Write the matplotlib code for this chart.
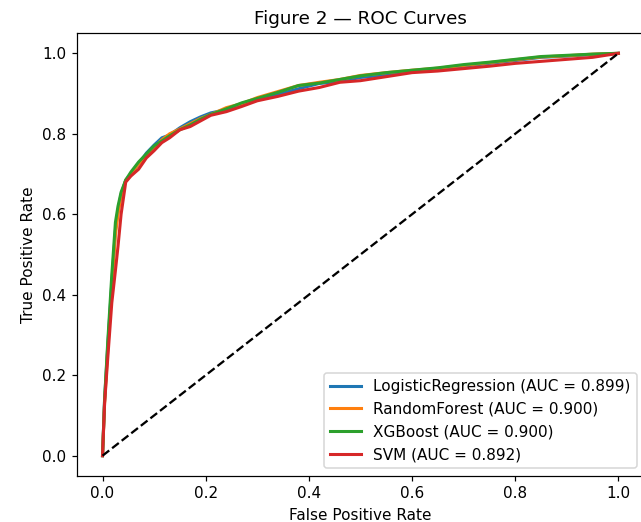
import matplotlib
matplotlib.use("Agg")
import matplotlib.pyplot as plt

models = ["LogisticRegression", "RandomForest", "XGBoost", "SVM"]
aucs = [0.899, 0.900, 0.900, 0.892]
colors = ["#1f77b4", "#ff7f0e", "#2ca02c", "#d62728"]

fpr_lr = [0.0, 0.004, 0.01, 0.018, 0.025, 0.03, 0.036, 0.045, 0.055, 0.07, 0.085, 0.1, 0.115, 0.13, 0.15, 0.17, 0.19, 0.21, 0.24, 0.27, 0.3, 0.34, 0.38, 0.42, 0.46, 0.5, 0.55, 0.6, 0.65, 0.7, 0.75, 0.8, 0.85, 0.9, 0.95, 1.0]
tpr_lr = [0.0, 0.14, 0.27, 0.43, 0.56, 0.61, 0.65, 0.685, 0.70, 0.725, 0.752, 0.772, 0.79, 0.797, 0.815, 0.83, 0.842, 0.852, 0.86, 0.872, 0.885, 0.898, 0.912, 0.925, 0.93, 0.94, 0.946, 0.955, 0.96, 0.968, 0.975, 0.982, 0.99, 0.993, 0.997, 1.0]
fpr_rf = [0.0, 0.004, 0.01, 0.018, 0.025, 0.03, 0.036, 0.045, 0.055, 0.07, 0.085, 0.1, 0.115, 0.13, 0.15, 0.17, 0.19, 0.21, 0.24, 0.27, 0.3, 0.34, 0.38, 0.42, 0.46, 0.5, 0.55, 0.6, 0.65, 0.7, 0.75, 0.8, 0.85, 0.9, 0.95, 1.0]
tpr_rf = [0.0, 0.13, 0.26, 0.42, 0.55, 0.60, 0.645, 0.685, 0.70, 0.725, 0.745, 0.765, 0.785, 0.80, 0.812, 0.825, 0.838, 0.848, 0.865, 0.875, 0.89, 0.905, 0.92, 0.928, 0.935, 0.945, 0.952, 0.958, 0.963, 0.97, 0.977, 0.984, 0.991, 0.994, 0.998, 1.0]
fpr_xgb = [0.0, 0.004, 0.01, 0.018, 0.025, 0.03, 0.036, 0.045, 0.055, 0.07, 0.085, 0.1, 0.115, 0.13, 0.15, 0.17, 0.19, 0.21, 0.24, 0.27, 0.3, 0.34, 0.38, 0.42, 0.46, 0.5, 0.55, 0.6, 0.65, 0.7, 0.75, 0.8, 0.85, 0.9, 0.95, 1.0]
tpr_xgb = [0.0, 0.14, 0.28, 0.45, 0.58, 0.62, 0.655, 0.685, 0.705, 0.73, 0.75, 0.77, 0.782, 0.795, 0.81, 0.822, 0.836, 0.848, 0.862, 0.877, 0.888, 0.903, 0.92, 0.926, 0.935, 0.944, 0.952, 0.958, 0.964, 0.972, 0.978, 0.985, 0.992, 0.995, 0.998, 1.0]
fpr_svm = [0.0, 0.004, 0.01, 0.018, 0.025, 0.03, 0.036, 0.045, 0.055, 0.07, 0.085, 0.1, 0.115, 0.13, 0.15, 0.17, 0.19, 0.21, 0.24, 0.27, 0.3, 0.34, 0.38, 0.42, 0.46, 0.5, 0.55, 0.6, 0.65, 0.7, 0.75, 0.8, 0.85, 0.9, 0.95, 1.0]
tpr_svm = [0.0, 0.13, 0.24, 0.38, 0.46, 0.52, 0.60, 0.68, 0.695, 0.712, 0.74, 0.758, 0.778, 0.79, 0.81, 0.818, 0.832, 0.846, 0.855, 0.868, 0.882, 0.893, 0.906, 0.915, 0.928, 0.932, 0.942, 0.952, 0.956, 0.962, 0.968, 0.975, 0.98, 0.985, 0.99, 1.0]

fprs = [fpr_lr, fpr_rf, fpr_xgb, fpr_svm]
tprs = [tpr_lr, tpr_rf, tpr_xgb, tpr_svm]

fig, ax = plt.subplots(figsize=(641 / 110, 522 / 110), dpi=110)
for name, auc, c, f, t in zip(models, aucs, colors, fprs, tprs):
    ax.plot(f, t, color=c, lw=2, label=f"{name} (AUC = {auc:.3f})")
ax.plot([0, 1], [0, 1], "k--", lw=1.5)
ax.set_xlabel("False Positive Rate")
ax.set_ylabel("True Positive Rate")
ax.set_title("Figure 2 — ROC Curves")
ax.legend(loc="lower right")
fig.subplots_adjust(left=0.1197, right=1.005, top=0.9364, bottom=0.0885)
fig.savefig("out.png", dpi=110)
